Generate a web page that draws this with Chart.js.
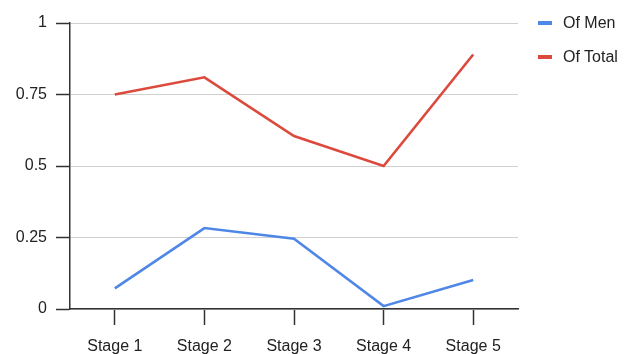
<!DOCTYPE html>
<html>
<head>
<meta charset="utf-8">
<script src="https://cdn.jsdelivr.net/npm/chart.js@4/dist/chart.umd.min.js"></script>
<style>
  html, body { margin: 0; padding: 0; background: #fff; }
  #wrap { position: relative; width: 625px; height: 354px; overflow: hidden; }
  #chart { position: absolute; left: 0; top: 0; }
  #legend { position: absolute; left: 538px; top: 0; font: 16px "Liberation Sans", Arial, sans-serif; color: #222; }
  .item { position: absolute; left: 0; white-space: nowrap; height: 20px; line-height: 20px; }
  .swatch { position: absolute; left: 0; top: 8px; width: 14px; height: 4px; }
  .label { position: absolute; left: 25px; top: 0; }
</style>
</head>
<body>
<div id="wrap">
  <canvas id="chart" width="625" height="354"></canvas>
  <div id="legend"></div>
</div>
<script>
// Stages along the x axis
const stages = ['Stage 1', 'Stage 2', 'Stage 3', 'Stage 4', 'Stage 5'];
// Share of men per stage
const ofMen = [0.072, 0.283, 0.246, 0.01, 0.101];
// Share of total per stage
const ofTotal = [0.75, 0.81, 0.605, 0.5, 0.89];
// Y axis ticks
const yTicks = [0, 0.25, 0.5, 0.75, 1];

const seriesNames = ['Of Men', 'Of Total'];
const seriesColors = ['#4f87e6', '#dc4a3d'];
const fontFamily = '"Liberation Sans", Arial, sans-serif';

const datasets = [ofMen, ofTotal].map((values, i) => ({
  label: seriesNames[i],
  data: values,
  borderColor: seriesColors[i],
  backgroundColor: seriesColors[i],
  borderWidth: 2.6,
  pointRadius: 0,
  pointHoverRadius: 0,
  tension: 0,
  fill: false
}));

new Chart(document.getElementById('chart'), {
  type: 'line',
  data: { labels: stages, datasets },
  options: {
    responsive: false,
    animation: false,
    events: [],
    layout: { padding: { left: 0, right: 107, top: 23, bottom: 0 } },
    plugins: { legend: { display: false }, tooltip: { enabled: false } },
    scales: {
      x: {
        offset: true,
        grid: { display: true, drawOnChartArea: false, drawTicks: true, offset: false, tickLength: 16, tickColor: '#333', tickWidth: 1.5 },
        border: { display: true, color: '#333', width: 1.5 },
        ticks: { color: '#222', font: { family: fontFamily, size: 16 }, padding: 12, maxRotation: 0, autoSkip: false },
        afterFit: s => { s.height = 45; }
      },
      y: {
        min: 0,
        max: 1,
        afterBuildTicks: s => { s.ticks = yTicks.map(v => ({ value: v })); },
        grid: { color: '#d0d0d0', lineWidth: 1, drawTicks: true, tickLength: 14, tickColor: '#333', tickWidth: 1.5 },
        border: { display: true, color: '#333', width: 1.5 },
        ticks: {
          color: '#222',
          font: { family: fontFamily, size: 16 },
          padding: 9,
          callback: v => String(v)
        },
        afterFit: s => { s.width = 70; }
      }
    }
  }
});

// Legend on the right
const legend = document.getElementById('legend');
seriesNames.forEach((name, i) => {
  const item = document.createElement('div');
  item.className = 'item';
  item.style.top = (13 + i * 34) + 'px';
  const sw = document.createElement('span');
  sw.className = 'swatch';
  sw.style.background = seriesColors[i];
  const lb = document.createElement('span');
  lb.className = 'label';
  lb.textContent = name;
  item.appendChild(sw);
  item.appendChild(lb);
  legend.appendChild(item);
});
</script>
</body>
</html>
